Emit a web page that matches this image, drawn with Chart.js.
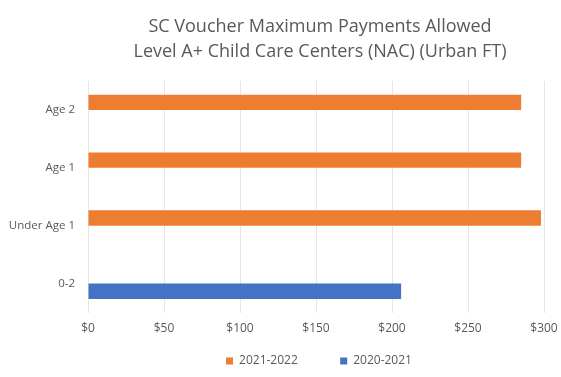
<!DOCTYPE html>
<html>
<head>
<meta charset="utf-8">
<script src="https://cdn.jsdelivr.net/npm/chart.js@4"></script>
<style>
  html, body { margin: 0; padding: 0; background: #fff; }
  #wrap { width: 561px; height: 377px; }
</style>
</head>
<body>
<div id="wrap"><canvas id="chart"></canvas></div>
<script>
// chart data
const categories = ['Age 2', 'Age 1', 'Under Age 1', '0-2'];
const seriesLabels = ['2021-2022', '2020-2021'];
const payments2122 = [285, 285, 298, null];
const payments2021 = [null, null, null, 206];
const titleLines = ['SC Voucher Maximum Payments Allowed', 'Level A+ Child Care Centers (NAC) (Urban FT)'];

const textGray = '#595959';

// title and legend sit centred over the plot, not the canvas
const shiftBoxes = {
    id: 'shiftBoxes',
    afterLayout(chart) {
        const t = chart.titleBlock;
        if (t) { t.left += 40; t.right += 40; }
        const l = chart.legend;
        if (l) { l.left += 39; l.right += 39; }
    }
};

const ctx = document.getElementById('chart').getContext('2d');
new Chart(ctx, {
    type: 'bar',
    data: {
        labels: categories,
        datasets: [{
            label: seriesLabels[0],
            data: payments2122,
            backgroundColor: '#ED7D31',
            categoryPercentage: 0.53,
            barPercentage: 1
        }, {
            label: seriesLabels[1],
            data: payments2021,
            backgroundColor: '#4472C4',
            categoryPercentage: 0.53,
            barPercentage: 1
        }]
    },
    options: {
        indexAxis: 'y',
        responsive: true,
        maintainAspectRatio: false,
        animation: false,
        layout: { padding: { left: 0, right: 1, top: 0, bottom: 0 } },
        scales: {
            x: {
                min: 0,
                max: 300,
                ticks: {
                    stepSize: 50,
                    color: textGray,
                    font: { family: 'Open Sans', size: 12 },
                    padding: 9,
                    callback: v => '$' + v
                },
                grid: { color: '#e6e6e6', drawTicks: false },
                border: { display: false },
                afterFit(scale) {
                    scale.height = 37.5;
                    scale.paddingRight = 17; // room for the "$300" label past the plot
                }
            },
            y: {
                ticks: {
                    color: textGray,
                    font: { family: 'Open Sans', size: 11.5 },
                    padding: 5
                },
                grid: { display: false },
                border: { color: '#e6e6e6' },
                afterFit(scale) { scale.width = 88; }
            }
        },
        plugins: {
            title: {
                display: true,
                text: titleLines,
                color: textGray,
                font: { family: 'Open Sans', size: 18, weight: 'normal', lineHeight: 1.39 },
                padding: { top: 14, bottom: 17 }
            },
            legend: {
                position: 'bottom',
                labels: {
                    color: textGray,
                    font: { family: 'Open Sans', size: 12 },
                    boxWidth: 7,
                    boxHeight: 7,
                    padding: 5,
                    generateLabels(chart) {
                        const items = Chart.defaults.plugins.legend.labels.generateLabels(chart);
                        // wider gap between the two entries, as in the original
                        items.forEach((it, i) => {
                            if (i < items.length - 1) it.text = it.text + '            ';
                        });
                        return items;
                    }
                }
            },
            tooltip: { enabled: false }
        }
    },
    plugins: [shiftBoxes]
});
</script>
</body>
</html>
